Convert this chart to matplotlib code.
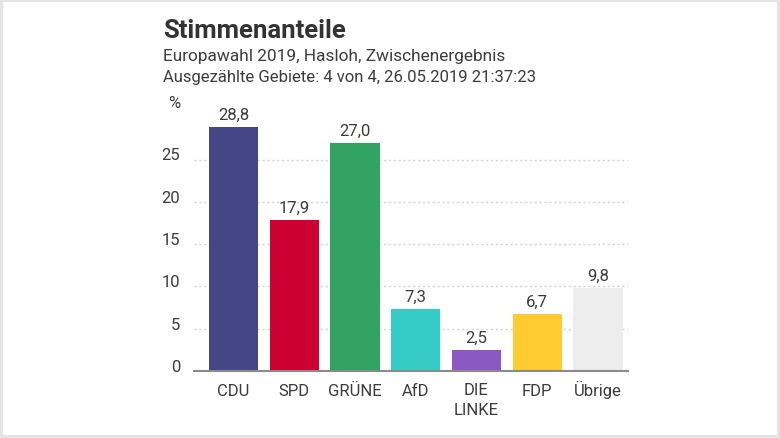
import matplotlib
matplotlib.use("Agg")
import matplotlib.pyplot as plt
from matplotlib.patches import Rectangle
from matplotlib.transforms import ScaledTranslation

parties = ["CDU", "SPD", "GRÜNE", "AfD", "DIE\nLINKE", "FDP", "Übrige"]
shares = [28.8, 17.9, 27.0, 7.3, 2.5, 6.7, 9.8]
colors = ["#444687", "#CC0033", "#33A364", "#36CCC6", "#8C58C2", "#FFCB30", "#EDEDED"]
value_labels = ["28,8", "17,9", "27,0", "7,3", "2,5", "6,7", "9,8"]
yticks = [0, 5, 10, 15, 20, 25]

plt.rcParams["font.family"] = ["Roboto", "DejaVu Sans"]
W, H = 780, 439
TXT = "#3c3c3c"
FS = 12.0
fig = plt.figure(figsize=(W / 100, H / 100), dpi=100, facecolor="white")
fig.add_artist(Rectangle((0, 0), 1, 1, transform=fig.transFigure, fill=False,
                         edgecolor="#e4e4e4", linewidth=4.4))

ax = fig.add_axes([194 / W, 1 - 372 / H, 434 / W, 253.8 / H])
ax.set_xlim(-0.649, 6.495)
ax.set_ylim(0, 30)
ax.set_facecolor("none")
ax.bar(range(len(parties)), shares, width=0.81, color=colors, zorder=3)
for x, v, s in zip(range(len(parties)), shares, value_labels):
    ax.annotate(s, (x, v), xytext=(0, 5.8), textcoords="offset points", ha="center",
                va="baseline", fontsize=FS, color=TXT, zorder=4)
ax.set_xticks(range(len(parties)), parties)
ax.set_yticks(yticks)
ax.tick_params(length=0)
ax.tick_params(axis="x", pad=17.3, labelsize=FS, labelcolor=TXT)
ax.tick_params(axis="y", pad=10, labelsize=FS, labelcolor=TXT)
for s in ["top", "left", "right"]:
    ax.spines[s].set_visible(False)
ax.spines["bottom"].set_color("#8a8a8a")
ax.spines["bottom"].set_linewidth(1.5)
ax.spines["bottom"].set_zorder(5)
ax.grid(axis="y", color="#d4d4d4", linestyle=(0, (1.5, 2)), linewidth=1, zorder=1)
ax.set_axisbelow(True)

for lab in ax.get_yticklabels():
    lab.set_verticalalignment("baseline")
for lab in ax.get_xticklabels():
    lab.set_verticalalignment("baseline")
    lab.set_linespacing(1.45)
    if "\n" in lab.get_text():
        lab.set_transform(lab.get_transform() + ScaledTranslation(0, -19.3 / 100, fig.dpi_scale_trans))

fig.text(163 / W, 1 - 38.3 / H, "Stimmenanteile", fontsize=18.5, fontweight="bold",
         color="#333333", va="baseline", ha="left")
fig.text(163 / W, 1 - 61 / H, "Europawahl 2019, Hasloh, Zwischenergebnis", fontsize=12.45,
         color=TXT, va="baseline", ha="left")
fig.text(163 / W, 1 - 82.3 / H, "Ausgezählte Gebiete: 4 von 4, 26.05.2019 21:37:23", fontsize=12.0,
         color=TXT, va="baseline", ha="left")
fig.text(180 / W, 1 - 108 / H, "%", fontsize=FS, color=TXT, va="baseline", ha="right")

fig.savefig("out.png", dpi=100)
